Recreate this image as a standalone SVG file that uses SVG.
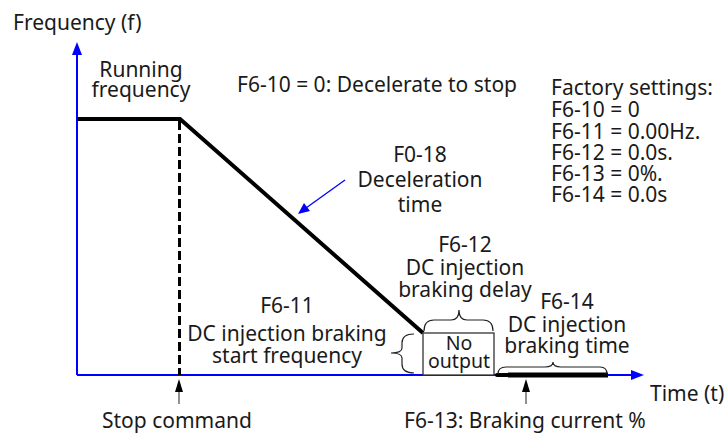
<svg xmlns="http://www.w3.org/2000/svg" width="727" height="434" viewBox="0 0 727 434">
<defs>
<style>
text{font-family:"Noto Sans","Open Sans",sans-serif;font-size:21px;fill:#1a1a1a}
.c{text-anchor:middle}
.sm{font-size:19.5px}
.axis{stroke:#0000ff;stroke-width:2;fill:none}
.thick{stroke:#000;stroke-width:4;fill:none}
.brace{stroke:#222;stroke-width:1.2;fill:none}
.blue{fill:#0000ff}
.blk{fill:#000}
</style>
</defs>
<rect width="727" height="434" fill="#fff"/>
<g id="connectors">
<path class="axis" d="M77,375 V52"/>
<polygon class="blue" points="77,42 72,55 82,55"/>
<path class="axis" d="M77,375 H633"/>
<polygon class="blue" points="644,375 631,370 631,380"/>
<path class="thick" d="M77,119 H180 L423,333"/>
<path d="M179.5,121 V375" stroke="#000" stroke-width="3" stroke-dasharray="9,4" fill="none"/>
<path d="M508,375 H608" stroke="#000" stroke-width="5" fill="none"/>
<path d="M497,375 H510" stroke="#000" stroke-width="4" stroke-linecap="round" fill="none"/>
<path d="M179,404 V388" stroke="#555" stroke-width="1.3" fill="none"/>
<polygon class="blk" points="179,379 175,392 183,392"/>
<path d="M526,404 V388" stroke="#555" stroke-width="1.3" fill="none"/>
<polygon class="blk" points="526,379 522,392 530,392"/>
<path d="M345,180 L306,208" stroke="#0000ff" stroke-width="1.3" fill="none"/>
<polygon class="blue" points="298,214 304,203 310,211"/>
</g>
<g id="braces">
<path class="brace" d="M424,331 Q424,320 434,320 L451,320 Q459,320 459,310 Q459,320 467,320 L483,320 Q493,320 493,331"/>
<path class="brace" d="M498,374 Q498,367 506,367 L545,367 Q553,367 553,362 Q553,367 561,367 L600,367 Q607,367 607,374"/>
<path class="brace" d="M414,334 Q402,334 402,343 L402,348 Q402,353 391,353 Q402,353 402,358 L402,364 Q402,373 414,373"/>
</g>
<g id="no-output">
<rect x="423" y="333" width="71" height="42" fill="#fff" stroke="#333" stroke-width="1.3"/>
<text class="c sm" x="459" y="350">No</text>
<text class="c sm" x="459" y="368">output</text>
</g>
<g id="labels">
<text x="13" y="30">Frequency (f)</text>
<text class="c" x="141" y="77">Running</text>
<text class="c" x="141" y="97">frequency</text>
<text class="c" x="377" y="92">F6-10 = 0: Decelerate to stop</text>
<text class="c" x="420" y="162">F0-18</text>
<text class="c" x="420" y="187">Deceleration</text>
<text class="c" x="420" y="212">time</text>
<text x="551" y="95">Factory settings:</text>
<text x="551" y="117">F6-10 = 0</text>
<text x="551" y="139">F6-11 = 0.00Hz.</text>
<text x="551" y="160">F6-12 = 0.0s.</text>
<text x="551" y="181">F6-13 = 0%.</text>
<text x="551" y="202">F6-14 = 0.0s</text>
<text class="c" x="465" y="252">F6-12</text>
<text class="c" x="465" y="275">DC injection</text>
<text class="c" x="465" y="297">braking delay</text>
<text class="c" x="567" y="309">F6-14</text>
<text class="c" x="567" y="332">DC injection</text>
<text class="c" x="567" y="353">braking time</text>
<text class="c" x="287" y="313">F6-11</text>
<text class="c" x="287" y="341">DC injection braking</text>
<text class="c" x="287" y="363">start frequency</text>
<text x="650" y="401">Time (t)</text>
<text x="102" y="428">Stop command</text>
<text x="404" y="428">F6-13: Braking current %</text>
</g>
</svg>
